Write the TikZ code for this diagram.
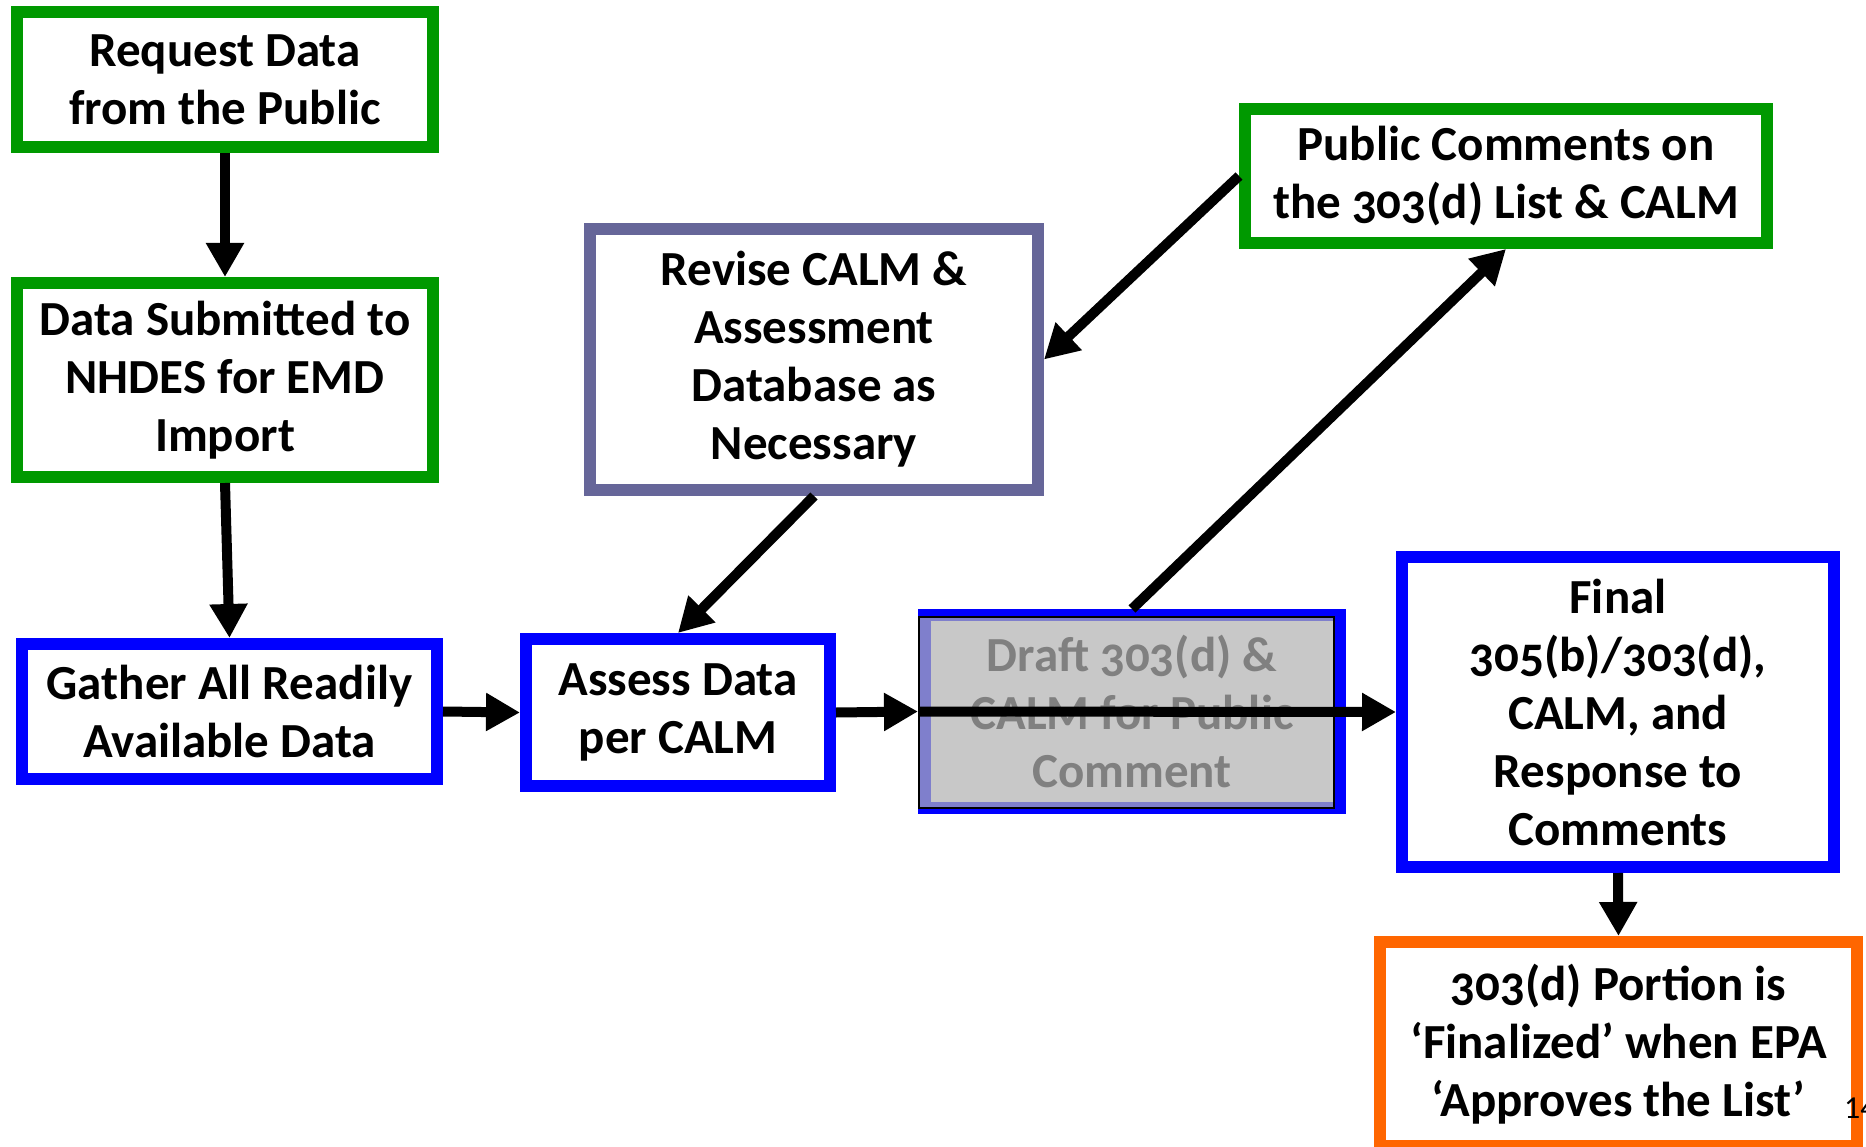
\documentclass[tikz,border=0pt]{standalone}
\usepackage{fontspec}
\setmainfont{Carlito}[Numbers=OldStyle]
\usetikzlibrary{arrows.meta}
\definecolor{boxgreen}{RGB}{0,153,0}
\definecolor{boxblue}{RGB}{0,0,255}
\definecolor{boxpurple}{RGB}{102,102,153}
\definecolor{boxorange}{RGB}{255,102,0}
\definecolor{draftlav}{RGB}{127,127,204}
\definecolor{draftgray}{RGB}{200,200,200}
\definecolor{draftink}{RGB}{128,128,128}

\begin{document}
\begin{tikzpicture}[x=1pt,y=1pt,yscale=-1,
	box/.style={draw,line width=12pt,fill=white,inner sep=0pt,align=center,font=\fontsize{49}{58}\selectfont\bfseries},
	greenbox/.style={box,draw=boxgreen},
	bluebox/.style={box,draw=boxblue},
	purplebox/.style={box,draw=boxpurple},
	orangebox/.style={box,draw=boxorange},
	arr/.style={line width=10pt,-{Triangle[length=34pt,width=36pt]}}]
			\useasboundingbox (0,0) rectangle (1866,1147);
			
			\node[greenbox,minimum width=416,minimum height=135] (request) at (225,79.5) {Request Data\\from the Public};
			\node[greenbox,minimum width=416,minimum height=194] (submit) at (225,380) {Data Submitted to\\NHDES for EMD\\Import};
			\node[bluebox,minimum width=415,minimum height=135] (gather) at (229.5,711.5) {Gather All Readily\\Available Data};
			\node[bluebox,minimum width=304,minimum height=147] (assess) at (678,712.5) {Assess Data\\per CALM};
			\node[purplebox,minimum width=448,minimum height=261] (revise) at (814,359.5) {Revise CALM \&\\Assessment\\Database as\\Necessary};
			\node[greenbox,minimum width=522,minimum height=134] (public) at (1506,176) {Public Comments on\\the 303(d) List \& CALM};
			\node[bluebox,minimum width=432,minimum height=310] (final) at (1618,712) {Final\\305(b)/303(d),\\CALM, and\\Response to\\Comments};
			\node[orangebox,minimum width=477,minimum height=204] (approve) at (1618.5,1044) {303(d) Portion is\\‘Finalized’ when EPA\\‘Approves the List’};
			
			\node[fill=boxblue,inner sep=0pt,outer sep=0pt,minimum width=428,minimum height=205] (draft) at (1132,711.5) {};
			\node[draw=black,line width=2pt,fill=draftlav,inner sep=0pt,minimum width=415,minimum height=191] (draftpanel) at (1126.5,712.5) {};
			\node[fill=draftgray,inner sep=0pt,minimum width=402,minimum height=181,align=center,text=draftink,font=\fontsize{49}{58}\selectfont\bfseries] (drafttext) at (1132,711.5) {Draft 303(d) \&\\CALM for Public\\Comment};
			
			\node[anchor=base west,inner sep=0pt,font=\fontsize{32}{38}\selectfont\addfontfeatures{Numbers=Lining}] (pagenum) at (1844,1118) {14};
			
			\draw[arr] (request.south) -- (submit.north);
			\draw[arr] (submit.south) -- (gather.north);
			\draw[arr] (gather.east) -- (assess.west);
			\draw[arr] (assess.east) -- (draft.west);
			\draw[arr] (draft.west) -- (final.west);
			\draw[arr] (revise.south) -- (assess.north);
			\draw[arr] (public.west) -- (revise.east);
			\draw[arr] (draft.north) -- (public.south);
			\draw[arr] (final.south) -- (approve.north);
\end{tikzpicture}
\end{document}
